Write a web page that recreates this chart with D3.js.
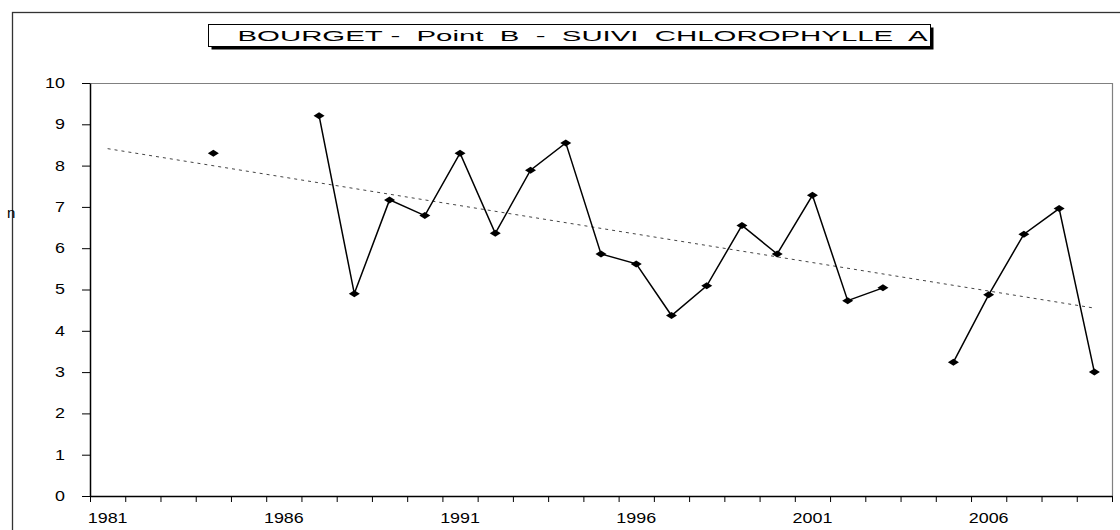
<!DOCTYPE html>
<html><head><meta charset="utf-8">
<script src="https://cdn.jsdelivr.net/npm/d3@7"></script>
<style>html,body{margin:0;padding:0;background:#fff;}svg{display:block;}</style>
</head><body>
<svg id="c" width="1120" height="530"></svg>
<script>
const years = [1981,1982,1983,1984,1985,1986,1987,1988,1989,1990,1991,1992,1993,1994,1995,1996,1997,1998,1999,2000,2001,2002,2003,2004,2005,2006,2007,2008,2009];
const chlorophylle = [null,null,null,8.30,null,null,9.21,4.90,7.17,6.79,8.30,6.36,7.89,8.55,5.86,5.62,4.37,5.09,6.55,5.86,7.28,4.73,5.04,null,3.24,4.87,6.34,6.96,3.00];
const xLabels = ["1981","1986","1991","1996","2001","2006"];
const yTicks = [0,1,2,3,4,5,6,7,8,9,10];
const titleText = "BOURGET -  Point  B  -  SUIVI  CHLOROPHYLLE  A";

const svg = d3.select("#c");
const L = 90, R = 1112, T = 83, B = 496;
const FONT = "'Liberation Sans', Arial, sans-serif";
const SX = 1.28;

// outer frame
svg.append("rect").attr("x",12.5).attr("y",12.5).attr("width",1130).attr("height",540)
  .attr("fill","none").attr("stroke","#333").attr("stroke-width",1.3);

// stray glyph on left border (clipped axis title)
svg.append("text").attr("x",7).attr("y",218).attr("font-family",FONT).attr("font-size",15)
  .attr("fill","#000").text("n");

const x = d3.scaleBand().domain(years).range([L,R]).padding(0);
const xb = d3.scaleLinear().domain([0, years.length]).range([L,R]);
const y = d3.scaleLinear().domain([0,10]).range([B,T]);
const cx = d => x(d) + x.bandwidth()/2;

// plot frame (top/right grey)
svg.append("path").attr("d",`M${L},${T+0.5}H${R+0.5}V${B}`).attr("fill","none")
  .attr("stroke","#808080").attr("stroke-width",1.2);

// y axis
const yAxis = svg.append("g").attr("transform",`translate(${L},0)`)
  .call(d3.axisLeft(y).tickValues(yTicks).tickSize(8).tickSizeOuter(0).tickPadding(17).tickFormat(d3.format("d")));
yAxis.select(".domain").attr("stroke","#000").attr("stroke-width",1.5);
yAxis.selectAll(".tick line").attr("stroke","#000").attr("stroke-width",1);
yAxis.selectAll(".tick text").attr("font-family",FONT).attr("font-size",14).attr("fill","#000")
  .each(function(){ const t=d3.select(this); const xv=+t.attr("x"); t.attr("x",xv/SX).attr("transform",`scale(${SX},1)`); });

// x axis ticks at category boundaries
const xAxis = svg.append("g").attr("transform",`translate(0,${B})`)
  .call(d3.axisBottom(xb).tickValues(d3.range(0, years.length+1)).tickSize(6).tickSizeOuter(0).tickFormat(""));
xAxis.select(".domain").attr("stroke","#000").attr("stroke-width",1.5);
xAxis.selectAll(".tick line").attr("stroke","#000").attr("stroke-width",1);

// x labels centred on categories
svg.append("g").selectAll("text").data(xLabels).join("text")
  .attr("transform", d => `translate(${cx(+d)},523) scale(${SX},1)`)
  .attr("text-anchor","middle").attr("font-family",FONT).attr("font-size",14).attr("fill","#000")
  .text(d => d);

// trend line (least squares on category index, as the spreadsheet does)
const pts = years.map((yr,i)=>({yr, i:i+1, v:chlorophylle[i]})).filter(d=>d.v!=null);
const mx = d3.mean(pts,d=>d.i), my = d3.mean(pts,d=>d.v);
const slope = d3.sum(pts,d=>(d.i-mx)*(d.v-my)) / d3.sum(pts,d=>(d.i-mx)**2);
const icpt = my - slope*mx;
const trendEnds = [years[0], years[years.length-1]];
svg.append("path")
  .attr("d", d3.line().x(d=>cx(d)).y(d=>y(icpt + slope*(years.indexOf(d)+1)))(trendEnds))
  .attr("fill","none").attr("stroke","#444").attr("stroke-width",1).attr("stroke-dasharray","3,4");

// data line
const data = years.map((yr,i)=>({yr, v:chlorophylle[i]}));
svg.append("path")
  .attr("d", d3.line().defined(d=>d.v!=null).x(d=>cx(d.yr)).y(d=>y(d.v))(data))
  .attr("fill","none").attr("stroke","#000").attr("stroke-width",1.5);

// diamond markers
const hw = 5.5, hh = 3.5;
svg.append("g").selectAll("path").data(data.filter(d=>d.v!=null)).join("path")
  .attr("transform", d=>`translate(${cx(d.yr)},${y(d.v)})`)
  .attr("d", `M0,${-hh}L${hw},0L0,${hh}L${-hw},0Z`).attr("fill","#000");

// title box with shadow
const tb = {x:208.5, y:24.5, w:722, h:22};
svg.append("rect").attr("x",tb.x+3).attr("y",tb.y+3).attr("width",tb.w).attr("height",tb.h).attr("fill","#000");
svg.append("rect").attr("x",tb.x).attr("y",tb.y).attr("width",tb.w).attr("height",tb.h)
  .attr("fill","#fff").attr("stroke","#000").attr("stroke-width",1);
svg.append("text").attr("x",237.5).attr("y",41).attr("font-family",FONT).attr("font-size",14)
  .attr("fill","#000").attr("xml:space","preserve").style("white-space","pre")
  .attr("textLength",690).attr("lengthAdjust","spacingAndGlyphs").text(titleText);
</script>
</body></html>
